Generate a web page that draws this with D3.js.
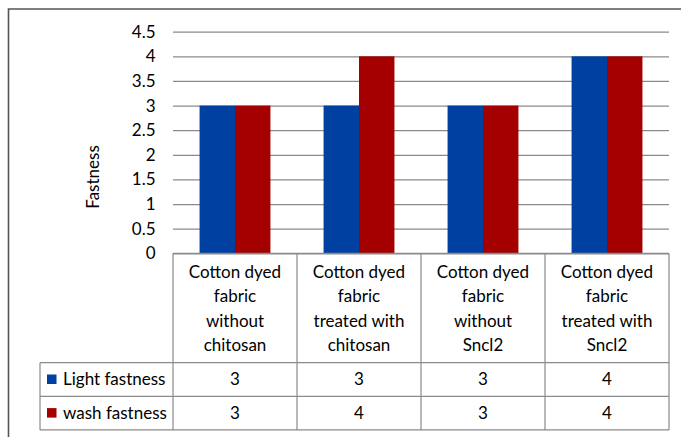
<!DOCTYPE html>
<html><head><meta charset="utf-8">
<script src="https://cdn.jsdelivr.net/npm/d3@7/dist/d3.min.js"></script>
<style>body{margin:0;background:#fff}svg{display:block}</style>
</head><body><svg id="c" width="681" height="437"></svg>
<script>
const categories = [
  ["Cotton dyed","fabric","without","chitosan"],
  ["Cotton dyed","fabric","treated with","chitosan"],
  ["Cotton dyed","fabric","without","Sncl2"],
  ["Cotton dyed","fabric","treated with","Sncl2"]
];
const seriesNames = ["Light fastness","wash fastness"];
const lightFastness = [3,3,3,4];
const washFastness = [3,4,3,4];
const yTicks = [0,0.5,1,1.5,2,2.5,3,3.5,4,4.5];
const colors = ["#0040a0","#a40000"];

const svg = d3.select("#c");
const font = "Lato, 'Noto Sans', sans-serif";
const fs = 17;
const L = 173, R = 669, T = 31.7, B = 253.3;
const rowTop = 362.7, rowH = 33.6, tableLeft = 40;

const x = d3.scaleBand().domain(d3.range(categories.length)).range([L,R]).paddingInner(0).paddingOuter(0);
const xs = d3.scaleBand().domain([0,1]).range([0, x.bandwidth()]).paddingInner(0).paddingOuter(0.75);
const y = d3.scaleLinear().domain([0,4.5]).range([B,T]);

// outer border
svg.append("path").attr("d",`M8.5,437 V9 H681`).attr("fill","none").attr("stroke","#555").attr("stroke-width",1.6);

// gridlines
const yAxis = d3.axisLeft(y).tickValues(yTicks).tickSize(-(R-L)).tickFormat(d3.format("~g")).tickPadding(18);
const ga = svg.append("g").attr("transform",`translate(${L},0)`).call(yAxis);
ga.select(".domain").remove();
ga.selectAll(".tick line").attr("stroke","#8a8a8a").attr("stroke-width",1.2);
ga.selectAll(".tick text").attr("font-family",font).attr("font-size",fs).attr("fill","#000").attr("x",-17.5);

// bars
const series = [lightFastness, washFastness];
series.forEach((vals,si)=>{
  svg.append("g").selectAll("rect").data(vals).join("rect")
    .attr("x",(d,i)=>x(i)+xs(si))
    .attr("y",d=>y(d))
    .attr("width",xs.bandwidth())
    .attr("height",d=>B-y(d))
    .attr("fill",colors[si]);
});

// y title
svg.append("text").attr("transform","translate(99,177) rotate(-90)")
  .attr("text-anchor","middle").attr("font-family",font).attr("font-size",fs).text("Fastness");

// table
const tbl = svg.append("g").attr("stroke","#8a8a8a").attr("stroke-width",1.2);
tbl.append("line").attr("x1",L).attr("x2",R).attr("y1",B).attr("y2",B);
[0,1,2].forEach(r=>{
  tbl.append("line").attr("x1",tableLeft).attr("x2",R).attr("y1",rowTop+r*rowH).attr("y2",rowTop+r*rowH);
});
tbl.append("line").attr("x1",tableLeft).attr("x2",tableLeft).attr("y1",rowTop).attr("y2",rowTop+2*rowH);
d3.range(categories.length+1).forEach(i=>{
  const xx = i<categories.length ? x(i) : R;
  tbl.append("line").attr("x1",xx).attr("x2",xx).attr("y1",B).attr("y2",rowTop+2*rowH);
});

// category labels
categories.forEach((lines,i)=>{
  const t = svg.append("text").attr("font-family",font).attr("font-size",fs).attr("text-anchor","middle");
  lines.forEach((ln,j)=>{
    t.append("tspan").attr("x",x(i)+x.bandwidth()/2).attr("y",272+j*24.4).attr("dy","0.35em").text(ln);
  });
});

// table rows
series.forEach((vals,si)=>{
  const cy = rowTop + si*rowH + rowH/2;
  svg.append("rect").attr("x",47).attr("y",cy-5).attr("width",9.5).attr("height",9.5).attr("fill",colors[si]);
  svg.append("text").attr("x",63).attr("y",cy).attr("dy","0.35em").attr("font-family",font).attr("font-size",fs).text(seriesNames[si]);
  vals.forEach((v,i)=>{
    svg.append("text").attr("x",x(i)+x.bandwidth()/2).attr("y",cy).attr("dy","0.35em")
      .attr("text-anchor","middle").attr("font-family",font).attr("font-size",fs).text(v);
  });
});
</script></body></html>
